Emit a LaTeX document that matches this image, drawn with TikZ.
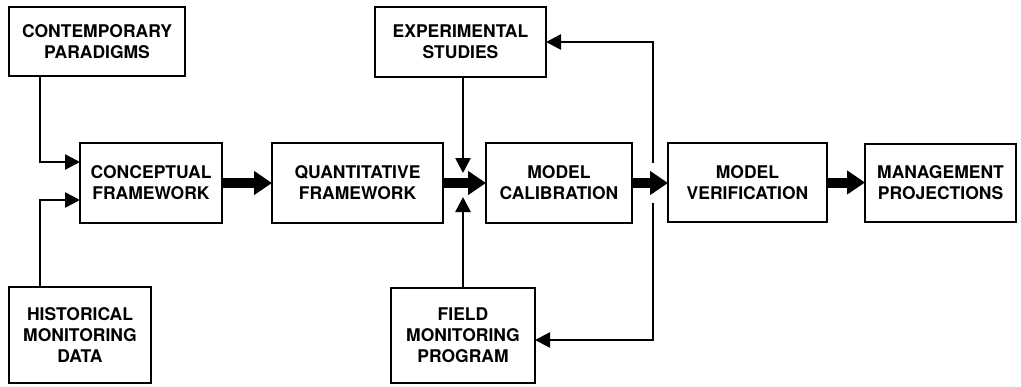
\documentclass[tikz,border=0pt]{standalone}
\usepackage{fontspec}
\setmainfont{TeX Gyre Heros}
\usetikzlibrary{arrows.meta}
\begin{document}
\begin{tikzpicture}[x=1pt,y=-1pt,
  box/.style={draw, line width=1.8pt, outer sep=0pt, inner sep=0pt, align=center,
    font=\fontsize{17.5}{21}\selectfont\bfseries},
  thinarr/.style={line width=2.6pt, -{Triangle[length=15pt,width=15pt]}},
  thickarr/.style={line width=10pt, -{Triangle[length=18pt,width=23pt]}}]
\useasboundingbox (0,0) rectangle (1021,386);
\fill[white] (0,0) rectangle (1021,386);
\node[box, minimum width=176pt, minimum height=69pt] (cp) at (97,41.5) {CONTEMPORARY\\PARADIGMS};
\node[box, minimum width=142pt, minimum height=96pt] (hm) at (80,335) {HISTORICAL\\MONITORING\\DATA};
\node[box, minimum width=142pt, minimum height=80pt] (cf) at (151,183) {CONCEPTUAL\\FRAMEWORK};
\node[box, minimum width=171pt, minimum height=80pt] (qf) at (357.5,183) {QUANTITATIVE\\FRAMEWORK};
\node[box, minimum width=171pt, minimum height=70pt] (es) at (460.5,42) {EXPERIMENTAL\\STUDIES};
\node[box, minimum width=144pt, minimum height=95pt] (fm) at (463,335.5) {FIELD\\MONITORING\\PROGRAM};
\node[box, minimum width=146pt, minimum height=80pt] (mc) at (559,183) {MODEL\\CALIBRATION};
\node[box, minimum width=159pt, minimum height=79pt] (mv) at (747.5,182.5) {MODEL\\VERIFICATION};
\node[box, minimum width=151pt, minimum height=78pt] (mp) at (940.5,183) {MANAGEMENT\\PROJECTIONS};
% helper coordinates
\coordinate (c1) at (40,162);
\coordinate (c2) at (40,200);
\coordinate (ex) at (463,173);
\coordinate (fx) at (463,197);
\coordinate (fb1) at (653,163);
\coordinate (fb2) at (653,203);
\coordinate (fy) at (0,340);
% thin arrows
\draw[thinarr] (cp.south -| c1) |- (cf.west |- c1);
\draw[thinarr] (hm.north -| c2) |- (cf.west |- c2);
\draw[thinarr] (es.south -| ex) -- (ex);
\draw[thinarr] (fm.north -| fx) -- (fx);
\draw[thinarr] (fb1) |- (es.east);
\draw[thinarr] (fb2) |- (fm.east |- fy);
% thick arrows
\draw[thickarr] (cf.east) -- (qf.west);
\draw[thickarr] (qf.east) -- (mc.west);
\draw[thickarr] (mc.east) -- (mc.east -| mv.west);
\draw[thickarr] (mv.east) -- (mv.east -| mp.west);
\end{tikzpicture}
\end{document}
